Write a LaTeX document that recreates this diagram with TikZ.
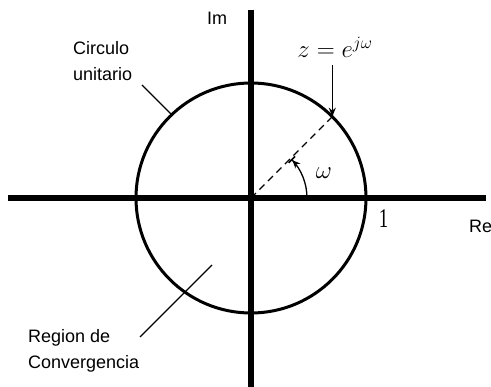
\documentclass[tikz,border=0pt]{standalone}
\usepackage{fontspec}
\usepackage{graphicx}
\setmainfont{Liberation Sans}
\newfontfamily\onefont{Liberation Serif}
\usetikzlibrary{arrows.meta,calc}
\begin{document}
\begin{tikzpicture}[x=1pt,y=-1pt,
  axis/.style={line width=6.5pt},
  unit/.style={line width=3pt},
  leader/.style={line width=1.3pt},
  lbl/.style={font=\fontsize{18}{26}\selectfont, align=left, inner sep=0pt},
  mathlbl/.style={font=\fontsize{23}{26}\selectfont, inner sep=0pt}]
\useasboundingbox (0,0) rectangle (491,387);
\coordinate (O) at (251,198);
\coordinate (xl) at (8,198);
\coordinate (xr) at (486,198);
\coordinate (yt) at (251,10);
\coordinate (yb) at (251,387);
\draw[axis] (xl) -- (xr);
\draw[axis] (yt) -- (yb);
\draw[unit] (O) circle[radius=115];
% dashed radius
\coordinate (P) at ($(O)+(81.3,-81.3)$);
\draw[leader, dash pattern=on 7pt off 5pt] (O) -- (P);
% arrow to point
\coordinate (Pa) at (332.3,65);
\draw[leader, -{Stealth[length=9pt,width=7pt]}] (Pa) -- (P);
\node[mathlbl, anchor=base] (zlab) at (335,58) {$z = e^{j\omega}$};
% angle arc
\draw[leader, -{Stealth[length=8pt,width=7pt] Bar[width=9pt,line width=1.6pt]}] ($(O)+(56,0)$) arc[start angle=0, end angle=-44, radius=56];
\node[mathlbl] (w) at (324,173) {$\omega$};
\node[inner sep=0pt, font=\onefont\fontsize{27}{27}\selectfont] (one) at (383.5,219) {\scalebox{0.7}[1]{1}};
\node[lbl, anchor=west] (re) at (469,226) {Re};
\node[lbl] (im) at (217,18) {Im};
\node[lbl, anchor=north west] (circ) at (73,41) {Circulo\\unitario};
\coordinate (c1) at (142,85);
\coordinate (c2) at (172,115);
\draw[leader] (c1) -- (c2);
\node[lbl, anchor=north west] (reg) at (28,329) {Region de\\Convergencia};
\coordinate (r1) at (140,337);
\coordinate (r2) at (212,265);
\draw[leader] (r1) -- (r2);
\end{tikzpicture}
\end{document}
